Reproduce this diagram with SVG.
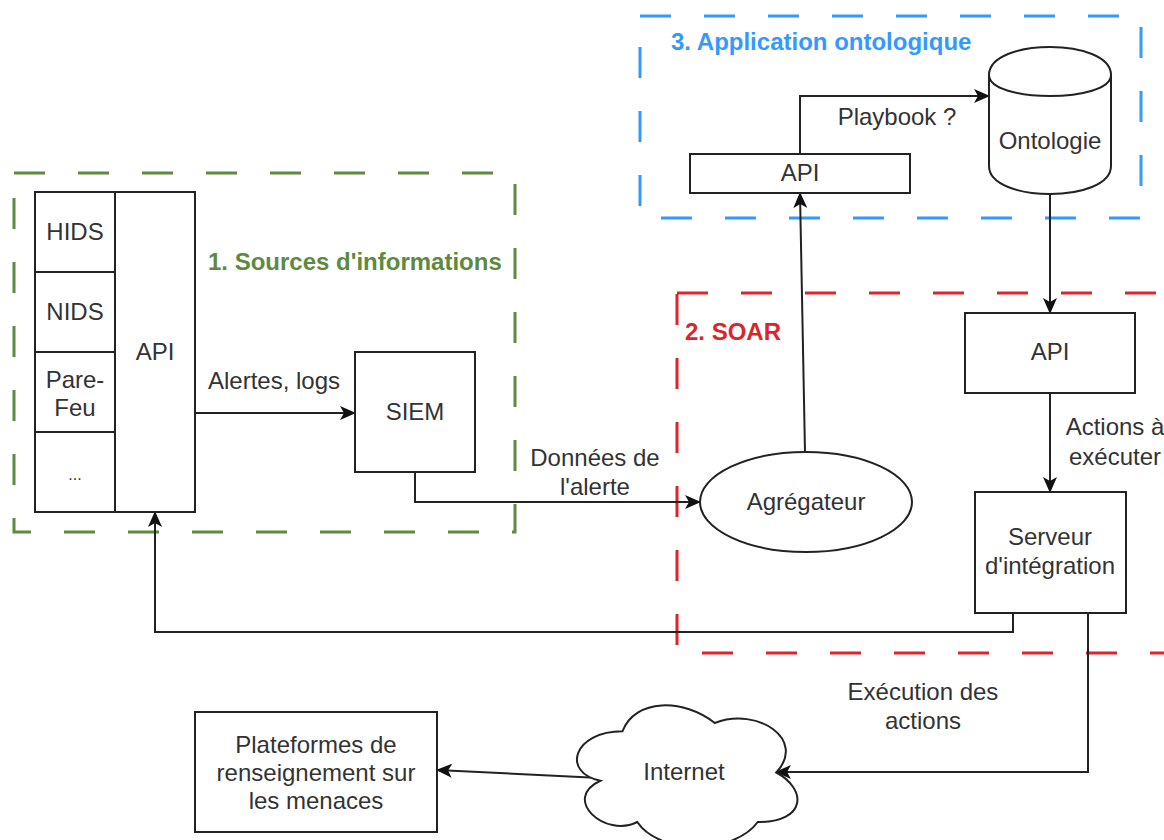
<svg xmlns="http://www.w3.org/2000/svg" width="1164" height="840" viewBox="0 0 1164 840">
  <defs>
    <style>
      .box { fill: #ffffff; stroke: #222222; stroke-width: 2; }
      .lbl { font-family: "Liberation Sans", Arial, sans-serif; font-size: 24px; fill: #333333; text-anchor: middle; }
      .title { font-family: "Liberation Sans", Arial, sans-serif; font-size: 24px; font-weight: bold; }
      .zone { fill: none; stroke-width: 3; stroke-dasharray: 31 33; }
      .edge { fill: none; stroke: #222222; stroke-width: 2; }
    </style>
    <marker id="arrow" viewBox="0 0 16 14" refX="15" refY="7" markerWidth="16" markerHeight="14" markerUnits="userSpaceOnUse" orient="auto">
      <path d="M0,0 L16,7 L0,14 L4,7 Z" fill="#111111"/>
    </marker>
  </defs>

  <rect width="1164" height="840" fill="#ffffff"/>

  <!-- zones -->
  <g id="zone-sources">
    <rect class="zone" x="14" y="173" width="501" height="359" stroke="#5D8A3E"/>
    <text class="title" x="208" y="270" fill="#5D8A3E">1. Sources d'informations</text>
  </g>
  <g id="zone-soar">
    <rect class="zone" x="677" y="293" width="520" height="360" stroke="#D9262C"/>
    <text class="title" x="685" y="340" fill="#D9262C">2. SOAR</text>
  </g>
  <g id="zone-ontologie">
    <rect class="zone" x="640" y="16" width="501" height="202" stroke="#3399FF"/>
    <text class="title" x="671" y="50" fill="#3399FF">3. Application ontologique</text>
  </g>

  <!-- connectors -->
  <g id="connectors">
    <path class="edge" d="M195,413 L355,413" marker-end="url(#arrow)"/>
    <text class="lbl" x="274" y="389">Alertes, logs</text>

    <path class="edge" d="M415,472 L415,502 L700,502" marker-end="url(#arrow)"/>
    <text class="lbl" x="595" y="466">Données de</text>
    <text class="lbl" x="595" y="495">l'alerte</text>

    <path class="edge" d="M805,452 L800,193" marker-end="url(#arrow)"/>

    <path class="edge" d="M800,154 L800,96 L989,96" marker-end="url(#arrow)"/>
    <text class="lbl" x="897" y="125">Playbook ?</text>

    <path class="edge" d="M1050,194 L1050,313" marker-end="url(#arrow)"/>

    <path class="edge" d="M1050,393 L1050,492" marker-end="url(#arrow)"/>
    <text class="lbl" x="1115" y="435">Actions à</text>
    <text class="lbl" x="1115" y="465">exécuter</text>

    <path class="edge" d="M1013,613 L1013,632 L155,632 L155,512" marker-end="url(#arrow)"/>

    <path class="edge" d="M1088,613 L1088,772 L776,772" marker-end="url(#arrow)"/>
    <text class="lbl" x="923" y="700">Exécution des</text>
    <text class="lbl" x="923" y="729">actions</text>

    <path class="edge" d="M600,778 L437,770" marker-end="url(#arrow)"/>
  </g>

  <!-- sources stack -->
  <g id="node-hids">
    <rect class="box" x="35" y="192" width="80" height="80"/>
    <text class="lbl" x="75" y="240">HIDS</text>
  </g>
  <g id="node-nids">
    <rect class="box" x="35" y="272" width="80" height="80"/>
    <text class="lbl" x="75" y="320">NIDS</text>
  </g>
  <g id="node-parefeu">
    <rect class="box" x="35" y="352" width="80" height="80"/>
    <text class="lbl" x="75" y="388">Pare-</text>
    <text class="lbl" x="75" y="416">Feu</text>
  </g>
  <g id="node-autres">
    <rect class="box" x="35" y="432" width="80" height="80"/>
    <text class="lbl" x="75" y="480" style="font-size:16px">...</text>
  </g>
  <g id="node-api-sources">
    <rect class="box" x="115" y="192" width="80" height="320"/>
    <text class="lbl" x="155" y="360">API</text>
  </g>

  <g id="node-siem">
    <rect class="box" x="355" y="352" width="120" height="120"/>
    <text class="lbl" x="415" y="420">SIEM</text>
  </g>

  <g id="node-agregateur">
    <ellipse class="box" cx="806" cy="502" rx="106" ry="50"/>
    <text class="lbl" x="806" y="510">Agrégateur</text>
  </g>

  <g id="node-api-ontologie">
    <rect class="box" x="690" y="154" width="220" height="39"/>
    <text class="lbl" x="800" y="181">API</text>
  </g>

  <g id="node-ontologie">
    <path class="box" d="M989,75 C989,37.7 1111,37.7 1111,75 L1111,166 C1111,203.3 989,203.3 989,166 Z"/>
    <path class="edge" d="M989,75 C989,103 1111,103 1111,75"/>
    <text class="lbl" x="1050" y="149">Ontologie</text>
  </g>

  <g id="node-api-soar">
    <rect class="box" x="965" y="313" width="170" height="80"/>
    <text class="lbl" x="1050" y="360">API</text>
  </g>

  <g id="node-serveur">
    <rect class="box" x="975" y="492" width="151" height="121"/>
    <text class="lbl" x="1050" y="545">Serveur</text>
    <text class="lbl" x="1050" y="574">d'intégration</text>
  </g>

  <g id="node-internet">
    <path class="box" d="M622.5,731.25 C573.3,731.25 561,772.5 600.36,780.75 C561,798.9 605.28,838.5 637.26,822 C659.4,855 733.2,855 757.8,822 C807,822 807,789 776.25,772.5 C807,739.5 757.8,706.5 714.75,723 C684,698.25 634.8,698.25 622.5,731.25 Z"/>
    <text class="lbl" x="684" y="780">Internet</text>
  </g>

  <g id="node-plateformes">
    <rect class="box" x="195" y="712" width="242" height="120"/>
    <text class="lbl" x="316" y="753">Plateformes de</text>
    <text class="lbl" x="316" y="781">renseignement sur</text>
    <text class="lbl" x="316" y="809">les menaces</text>
  </g>
</svg>
